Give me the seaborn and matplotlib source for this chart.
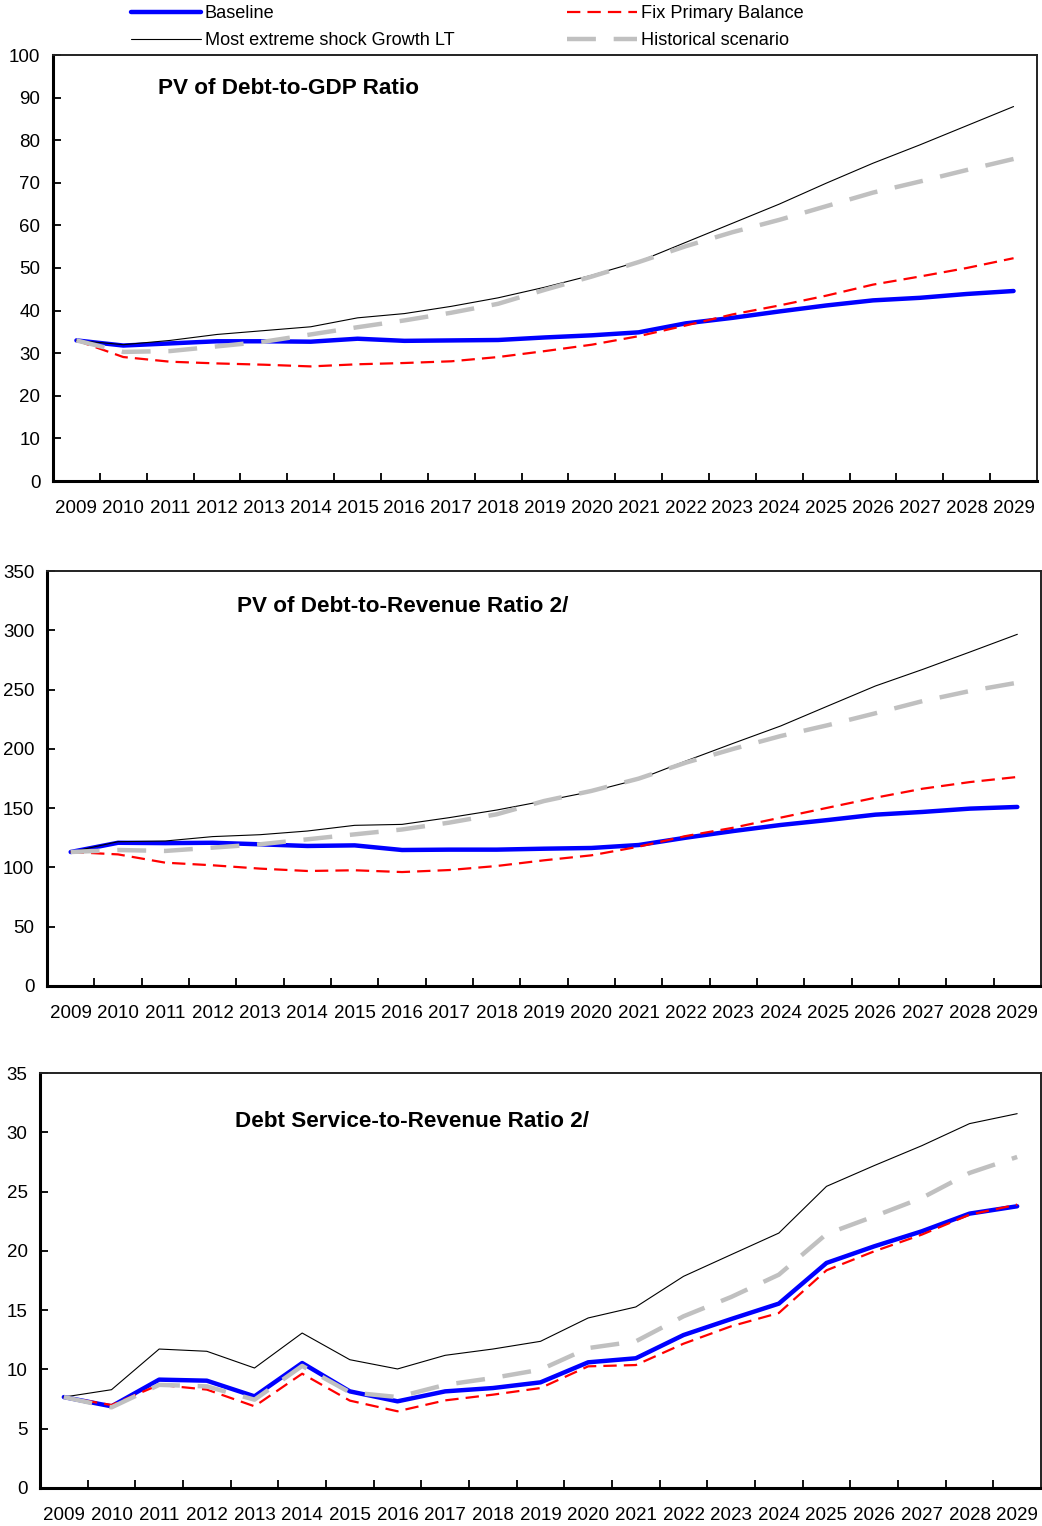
import numpy as np
import pandas as pd
import matplotlib
matplotlib.use("Agg")
import matplotlib.pyplot as plt
import seaborn as sns
from matplotlib.lines import Line2D

# Years on the category axis
years = [str(y) for y in range(2009, 2030)]

# PV of Debt-to-GDP ratio
gdp_baseline = [33.0, 31.8, 32.3, 32.8, 32.8, 32.7, 33.4, 32.9, 33.0, 33.1, 33.7,
                34.2, 34.9, 37.0, 38.3, 39.8, 41.2, 42.4, 43.0, 43.9, 44.6]
gdp_fixpb = [33.0, 29.1, 28.0, 27.6, 27.3, 26.9, 27.4, 27.7, 28.1, 29.1, 30.5,
             32.0, 34.0, 36.5, 39.1, 41.2, 43.5, 46.1, 48.0, 50.0, 52.3]
gdp_shock = [33.0, 32.0, 33.0, 34.4, 35.3, 36.2, 38.3, 39.3, 41.0, 43.0, 45.5,
             48.3, 51.5, 56.0, 60.5, 65.0, 69.9, 74.6, 78.9, 83.4, 87.9]
gdp_hist = [33.0, 30.3, 30.5, 31.6, 32.7, 34.4, 36.1, 37.7, 39.5, 41.6, 44.9,
            48.0, 51.4, 55.1, 58.4, 61.3, 64.5, 67.7, 70.3, 73.0, 75.6]

# PV of Debt-to-Revenue ratio
rev_baseline = [113.0, 120.8, 120.5, 120.8, 119.5, 118.1, 118.6, 114.7, 115.0, 115.0, 115.8,
                116.4, 118.9, 125.1, 130.7, 135.8, 140.0, 144.5, 146.8, 149.6, 151.0]
rev_fixpb = [113.0, 111.0, 104.0, 101.8, 99.0, 97.0, 97.6, 96.1, 97.8, 101.2, 106.0,
             110.2, 117.5, 126.5, 133.5, 142.0, 150.4, 158.8, 166.4, 172.0, 176.3]
rev_shock = [113.0, 121.7, 122.3, 126.0, 127.6, 130.7, 135.5, 136.3, 142.0, 148.4, 156.0,
             164.0, 174.3, 189.8, 204.7, 219.3, 236.2, 253.0, 267.0, 281.7, 296.6]
rev_hist = [113.0, 114.7, 113.9, 116.7, 119.5, 123.7, 127.9, 132.0, 137.8, 144.8, 156.0,
            164.5, 174.9, 188.4, 200.0, 210.8, 220.0, 230.0, 240.3, 248.8, 255.8]

# Debt Service-to-Revenue ratio
ds_baseline = [7.67, 6.89, 9.14, 9.05, 7.73, 10.54, 8.15, 7.31, 8.15, 8.43, 8.91,
               10.6, 10.94, 12.9, 14.25, 15.55, 18.98, 20.38, 21.65, 23.14, 23.76]
ds_fixpb = [7.67, 7.0, 8.7, 8.3, 6.89, 9.64, 7.37, 6.47, 7.39, 7.87, 8.43,
            10.26, 10.37, 12.17, 13.64, 14.76, 18.36, 19.96, 21.37, 23.05, 23.9]
ds_shock = [7.67, 8.29, 11.72, 11.53, 10.12, 13.07, 10.82, 10.04, 11.19, 11.72, 12.37,
            14.34, 15.27, 17.85, 19.68, 21.5, 25.44, 27.19, 28.87, 30.73, 31.57]
ds_hist = [7.67, 6.8, 8.7, 8.57, 7.45, 10.3, 8.07, 7.67, 8.7, 9.28, 9.98,
           11.8, 12.37, 14.48, 16.11, 17.99, 21.42, 22.91, 24.46, 26.57, 27.92]

titles = ["PV of Debt-to-GDP Ratio",
          "PV of Debt-to-Revenue Ratio 2/",
          "Debt Service-to-Revenue Ratio 2/"]
series_names = ["Baseline", "Fix Primary Balance",
                "Most extreme shock Growth LT", "Historical scenario"]

sns.set_theme(style="ticks")
plt.rcParams["font.family"] = ["Liberation Sans", "DejaVu Sans"]
plt.rcParams["axes.edgecolor"] = "black"
plt.rcParams["text.color"] = "black"
plt.rcParams["xtick.color"] = "black"
plt.rcParams["ytick.color"] = "black"

styles = {
    "Baseline": dict(color="#0000FF", linewidth=3.2, linestyle="-"),
    "Fix Primary Balance": dict(color="#FF0000", linewidth=1.6, linestyle=(0, (6.0, 3.2))),
    "Most extreme shock Growth LT": dict(color="black", linewidth=0.8, linestyle="-"),
    "Historical scenario": dict(color="#C0C0C0", linewidth=3.2, linestyle=(0, (6.5, 4.0))),
}

W, H = 1042, 1526
fig = plt.figure(figsize=(W / 100, H / 100), dpi=100)

# panel boxes in pixels: left, right, top, bottom
boxes = [(53, 1037, 55, 481), (47, 1041, 571, 986), (40, 1041, 1073, 1488)]
ylims = [(0, 100, 10), (0, 350, 50), (0, 35, 5)]
title_pos = [(158, 88.5), (237, 606.5), (235, 1121.5)]
panels = [
    (gdp_baseline, gdp_fixpb, gdp_shock, gdp_hist),
    (rev_baseline, rev_fixpb, rev_shock, rev_hist),
    (ds_baseline, ds_fixpb, ds_shock, ds_hist),
]

x = np.arange(len(years))
for (l, r, t, b), (y0, y1, step), (tx, ty), data, title in zip(
        boxes, ylims, title_pos, panels, titles):
    ax = fig.add_axes([l / W, 1 - b / H, (r - l) / W, (b - t) / H])
    for name, vals in zip(series_names, data):
        sns.lineplot(x=x, y=vals, ax=ax, legend=False, **styles[name])
    ax.set_xlim(-0.5, len(years) - 0.5)
    ax.set_ylim(y0, y1)
    ax.set_yticks(np.arange(y0, y1 + step / 2, step))
    ax.set_yticklabels([f"{v:g}" for v in np.arange(y0, y1 + step / 2, step)])
    ax.set_xticks(x)
    ax.set_xticklabels(years)
    ax.set_xticks(np.arange(0.5, len(years) - 1, 1.0), minor=True)
    ax.tick_params(axis="x", which="major", length=0, pad=14, labelsize=13.5)
    ax.tick_params(axis="x", which="minor", direction="in", length=6, width=1.3)
    ax.tick_params(axis="y", which="major", direction="in", length=6, width=1.3,
                   pad=9, labelsize=13.5)
    ax.set_xlabel("")
    ax.set_ylabel("")
    for side in ["left", "bottom"]:
        ax.spines[side].set_linewidth(2.2)
    for side in ["top", "right"]:
        ax.spines[side].set_linewidth(1.4)
        ax.spines[side].set_color("#222222")
    ax.text((tx - l) / (r - l), (b - ty) / (b - t), title, transform=ax.transAxes,
            ha="left", va="center", fontsize=16.2, fontweight="bold")

# shared legend along the top
order = ["Baseline", "Most extreme shock Growth LT", "Fix Primary Balance", "Historical scenario"]
handles = [Line2D([0], [0], **styles[n]) for n in order]
fig.legend(handles, order, loc="upper left", bbox_to_anchor=(131 / W, 1 - 5.5 / H),
           ncol=2, frameon=False, fontsize=13.1, handlelength=3.85, handletextpad=0.2,
           columnspacing=6.2, labelspacing=0.52, borderpad=0, borderaxespad=0)

fig.savefig("out.png", dpi=100)
